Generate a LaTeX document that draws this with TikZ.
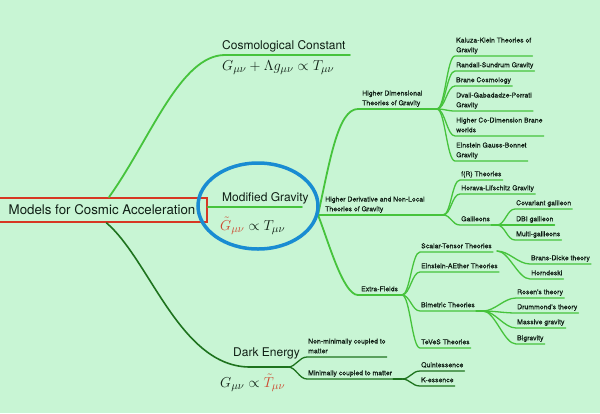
\documentclass[tikz,border=0pt]{standalone}
\usepackage{fontspec}
\setmainfont{TeX Gyre Heros}
\newfontfamily\leaffont{TeX Gyre Heros}[FakeBold=0.35]
\usetikzlibrary{shapes.geometric}
\definecolor{bg}{RGB}{200,245,212}
\definecolor{lg}{RGB}{70,195,60}
\definecolor{dg}{RGB}{30,115,30}
\definecolor{txt}{RGB}{15,30,20}
\definecolor{rbox}{RGB}{215,55,35}
\definecolor{rtex}{RGB}{205,70,45}
\definecolor{ring}{RGB}{25,140,210}
\begin{document}
\begin{tikzpicture}[x=1pt,y=-1pt,
  every node/.style={text=txt},
  big/.style={font=\fontsize{12}{14}\selectfont, inner sep=0pt, anchor=base west},
  eq/.style={font=\fontsize{15}{17}\selectfont, inner sep=0pt, anchor=base west},
  leaf/.style={font=\leaffont\fontsize{6.9}{9.7}\selectfont, align=left, inner xsep=1pt, inner ysep=1.5pt, text depth=2pt, anchor=south west},
  br/.style={lg, line width=1.8pt, line cap=round},
  brd/.style={dg, line width=1.6pt, line cap=round},
  ul/.style={lg, line width=1.3pt, line cap=round},
  uld/.style={dg, line width=1.3pt, line cap=round},
  fan/.style={to path={.. controls +(8,0) and +(-8,0) .. (\tikztotarget)}}
]
\fill[bg] (0,0) rectangle (600,413);
\useasboundingbox (0,0) rectangle (600,413);

% root
\node[draw=rbox, line width=1.8pt, minimum width=210pt, minimum height=24pt, inner sep=0pt,
      font=\fontsize{13.3}{15}\selectfont] (root) at (102,210) {Models for Cosmic Acceleration};

% main labels
\node[big] (cc) at (222,49.5) {Cosmological Constant};
\node[eq] (ccf) at (222,70.5) {$G_{\mu\nu}+\Lambda g_{\mu\nu}\propto T_{\mu\nu}$};
\node[big] (mg) at (222,201) {Modified Gravity};
\node[eq] (mgf) at (220,230) {${\color{rtex}\tilde G_{\mu\nu}}\propto T_{\mu\nu}$};
\node[big] (de) at (233,356) {Dark Energy};
\node[eq] (def) at (220,387) {$G_{\mu\nu}\propto {\color{rtex}\tilde T_{\mu\nu}}$};

% coordinates
\coordinate (ccend) at (350,55);
\coordinate (mgend) at (302,207);
\coordinate (mgfork) at (318,215);
\coordinate (hdtfork) at (437,109);
\coordinate (hdnlfork) at (443,215);
\coordinate (effork) at (402,295);
\coordinate (galfork) at (497,225);
\coordinate (stfork) at (497,251);
\coordinate (btfork) at (483,311);
\coordinate (defork) at (288,367);
\coordinate (mcfork) at (402,379);

% main branches
\draw[br] ([xshift=7pt]root.north) .. controls (150,140) and (180,55) .. (225,55) -- (ccend);
\draw[br] ([yshift=3pt]root.east) -- (mgend);
\draw[brd] ([xshift=4.5pt]root.south) .. controls (150,260) and (180,367) .. (250,367) -- (defork);

\draw[br] (mgfork) .. controls (330,160) and (338,109) .. (358,109) -- (hdtfork);
\draw[br] (mgfork) -- (hdnlfork);
\draw[br] (mgfork) .. controls (328,240) and (343,295) .. (358,295) -- (effork);

% mid labels
\node[leaf] (hdt) at (361,109) {Higher Dimensional\\Theories of Gravity};
\node[leaf] (hdnl) at (324,215) {Higher Derivative and Non-Local\\Theories of Gravity};
\node[leaf] (ef) at (360,295) {Extra-Fields};

% higher dimensional leaves
\node[leaf] (kk) at (455,56) {Kaluza-Klein Theories of\\Gravity};
\node[leaf] (rs) at (455,71) {Randall-Sundrum Gravity};
\node[leaf] (bc) at (455,86) {Brane Cosmology};
\node[leaf] (dgp) at (455,111) {Dvali-Gabadadze-Porrati\\Gravity};
\node[leaf] (hcd) at (455,136) {Higher Co-Dimension Brane\\worlds};
\node[leaf] (egb) at (455,161) {Einstein Gauss-Bonnet\\Gravity};
\foreach \n in {kk,rs,bc,dgp,hcd,egb}
  \draw[ul] (hdtfork) to[fan] (\n.south west) -- (\n.south east);

% higher derivative leaves
\node[leaf] (fr) at (460,180) {f(R) Theories};
\node[leaf] (hl) at (460,194) {Horava-Lifschitz Gravity};
\node[leaf] (gal) at (460,225) {Galileons};
\foreach \n in {fr,hl,gal}
  \draw[ul] (hdnlfork) to[fan] (\n.south west) -- (\n.south east);
\draw[ul] (gal.south east) -- (galfork);

\node[leaf] (cov) at (515,209) {Covariant galileon};
\node[leaf] (dbi) at (515,225) {DBI galileon};
\node[leaf] (mul) at (515,240) {Multi-galileons};
\foreach \n in {cov,dbi,mul}
  \draw[ul] (galfork) to[fan] (\n.south west) -- (\n.south east);

% extra fields leaves
\node[leaf] (st) at (420,252) {Scalar-Tensor Theories};
\node[leaf] (ea) at (420,272) {Einstein-AEther Theories};
\node[leaf] (bt) at (420,311) {Bimetric Theories};
\node[leaf] (tv) at (420,348) {TeVeS Theories};
\foreach \n in {st,ea,bt,tv}
  \draw[ul] (effork) to[fan] (\n.south west) -- (\n.south east);

\node[leaf] (bd) at (530,264) {Brans-Dicke theory};
\node[leaf] (hk) at (530,279) {Horndeski};
\foreach \n in {bd,hk}
  \draw[ul] (stfork) .. controls +(12,0) and +(-12,0) .. (\n.south west) -- (\n.south east);

\draw[ul] (bt.south east) -- (btfork);
\node[leaf] (ro) at (516,298) {Rosen's theory};
\node[leaf] (dr) at (516,313) {Drummond's theory};
\node[leaf] (ma) at (516,328) {Massive gravity};
\node[leaf] (bi) at (516,344) {Bigravity};
\foreach \n in {ro,dr,ma,bi}
  \draw[ul] (btfork) .. controls +(12,0) and +(-12,0) .. (\n.south west) -- (\n.south east);

% dark energy leaves
\node[leaf] (nm) at (307,357) {Non-minimally coupled to\\matter};
\node[leaf] (mc) at (307,379) {Minimally coupled to matter};
\foreach \n in {nm,mc}
  \draw[uld] (defork) to[fan] (\n.south west) -- (\n.south east);
\draw[uld] (mc.south east) -- (mcfork);
\node[leaf] (qu) at (420,371) {Quintessence};
\node[leaf] (ke) at (420,386) {K-essence};
\foreach \n in {qu,ke}
  \draw[uld] (mcfork) to[fan] (\n.south west) -- (\n.south east);

% blue ring
\node[ellipse, draw=ring, line width=3.5pt, minimum width=120pt, minimum height=86pt, inner sep=0pt] (ringnode) at (258,206) {};
\end{tikzpicture}
\end{document}
